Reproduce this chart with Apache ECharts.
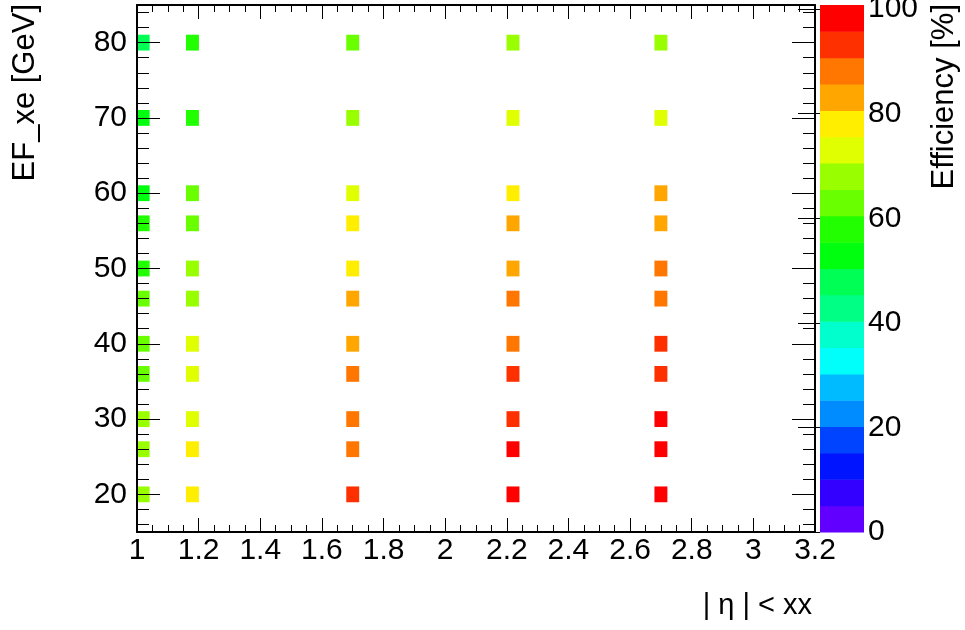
<!DOCTYPE html>
<html>
<head>
<meta charset="utf-8">
<script src="https://cdn.jsdelivr.net/npm/echarts@6/dist/echarts.min.js"></script>
<style>
  html, body { margin: 0; padding: 0; background: #fff; }
  #chart { width: 965px; height: 630px; }
</style>
</head>
<body>
<div id="chart"></div>
<script>
// |eta| cut values (x) and EF_xe thresholds in GeV (y)
const etaCuts = [1.02, 1.18, 1.7, 2.22, 2.7];
const xeThresholds = [20, 26, 30, 36, 40, 46, 50, 56, 60, 70, 80];

// Trigger efficiency [%] per |eta| cut, ordered like xeThresholds
const effEta102 = [68, 67, 67, 63, 62, 62, 57, 56, 54, 53, 48];
const effEta118 = [77, 77, 72, 72, 72, 67, 67, 62, 62, 57, 57];
const effEta170 = [92, 87, 87, 87, 82, 82, 77, 77, 72, 67, 62];
const effEta222 = [97, 97, 92, 92, 87, 87, 82, 82, 77, 72, 67];
const effEta270 = [97, 97, 97, 92, 92, 87, 87, 82, 82, 72, 67];
const effColumns = [effEta102, effEta118, effEta170, effEta222, effEta270];

// Axis tick labels
const yMajorTicks = [20, 30, 40, 50, 60, 70, 80];
const zTicks = [0, 20, 40, 60, 80, 100];

// Colour scale: 20 contour levels spanning 0 .. Z_MAX
const Z_MAX = 100.8;
const N_LEVELS = 20;
const palette = [
  '#6200ff', '#3300ff', '#0014ff', '#0044ff', '#008bff',
  '#00bbff', '#00fffb', '#00ffcc', '#00ff85', '#00ff55',
  '#00ff0e', '#22ff00', '#69ff00', '#99ff00', '#e0ff00',
  '#ffee00', '#ffa700', '#ff7700', '#ff3000', '#ff0000'
];

// Cell size in data units
const CELL_W = 0.042;
const CELL_H = 2.1;

const FONT = '"Liberation Sans", Arial, Helvetica, sans-serif';
const INK = '#000';
const LABEL_SIZE = 30;
const TITLE_SIZE = 31;

function levelOf(v) {
  const j = Math.floor(v / (Z_MAX / N_LEVELS));
  return Math.max(0, Math.min(N_LEVELS - 1, j));
}

// Cells: [eta, xe, efficiency]
const cells = [];
etaCuts.forEach((eta, i) => {
  xeThresholds.forEach((xe, k) => {
    cells.push([eta, xe, effColumns[i][k]]);
  });
});

// Colour bar bands: [lo, hi, level]
const bands = [];
for (let j = 0; j < N_LEVELS; j++) {
  bands.push([j * Z_MAX / N_LEVELS, (j + 1) * Z_MAX / N_LEVELS, j]);
}

// Minor tick positions every 2 GeV between the major ones
const yMinorTicks = [];
for (let v = 16; v <= 84; v += 2) {
  if (v % 10 !== 0) yMinorTicks.push(v);
}

const axisLine = { show: true, lineStyle: { color: INK, width: 2 } };
const tickStyle = { color: INK, width: 1 };
const labelStyle = { fontFamily: FONT, fontSize: LABEL_SIZE, color: INK };

function xAxisDef(position, withLabels) {
  return {
    type: 'value', gridIndex: 0, position: position,
    min: 1, max: 3.2, interval: 0.2, z: 10,
    axisLine: axisLine,
    axisTick: { show: true, inside: true, length: 14, lineStyle: tickStyle },
    minorTick: { show: true, splitNumber: 4, length: 7, lineStyle: tickStyle },
    axisLabel: Object.assign({ show: withLabels, margin: 4 }, labelStyle),
    splitLine: { show: false }, minorSplitLine: { show: false }
  };
}

function yAxisDef(position, ticks, len, withLine, withLabels) {
  return {
    type: 'value', gridIndex: 0, position: position,
    min: 15, max: 85, z: 10,
    axisLine: withLine ? axisLine : { show: false },
    axisTick: { show: true, inside: true, length: len, lineStyle: tickStyle, customValues: ticks },
    axisLabel: Object.assign({ show: withLabels, margin: 10, customValues: ticks }, labelStyle),
    splitLine: { show: false }
  };
}

const chart = echarts.init(document.getElementById('chart'), null, { renderer: 'canvas' });

chart.setOption({
  animation: false,
  backgroundColor: '#fff',
  grid: [
    { left: 137, top: 5, width: 678, height: 527, outerBoundsMode: 'none' },
    { left: 820, top: 5, width: 44, height: 527, outerBoundsMode: 'none' }
  ],
  xAxis: [
    xAxisDef('bottom', true),
    xAxisDef('top', false),
    { type: 'value', gridIndex: 1, min: 0, max: 1, show: false }
  ],
  yAxis: [
    yAxisDef('left', yMajorTicks, 23, true, true),
    yAxisDef('left', yMinorTicks, 12, false, false),
    yAxisDef('right', yMajorTicks, 23, true, false),
    yAxisDef('right', yMinorTicks, 12, false, false),
    {
      type: 'value', gridIndex: 1, position: 'right',
      min: 0, max: Z_MAX, z: 10,
      axisLine: { show: false },
      axisTick: { show: true, inside: true, length: 22, lineStyle: tickStyle, customValues: zTicks },
      axisLabel: Object.assign({ margin: 4, customValues: zTicks }, labelStyle),
      splitLine: { show: false }
    }
  ],
  series: [
    {
      type: 'custom',
      xAxisIndex: 0, yAxisIndex: 0,
      clip: true,
      data: cells,
      renderItem: function (params, api) {
        const c = api.coord([api.value(0), api.value(1)]);
        const s = api.size([CELL_W, CELL_H]);
        return {
          type: 'rect',
          shape: { x: c[0] - s[0] / 2, y: c[1] - s[1] / 2, width: s[0], height: s[1] },
          style: { fill: palette[levelOf(api.value(2))] }
        };
      }
    },
    {
      type: 'custom',
      xAxisIndex: 2, yAxisIndex: 4,
      data: bands,
      renderItem: function (params, api) {
        const p1 = api.coord([0, api.value(1)]);
        const p2 = api.coord([1, api.value(0)]);
        return {
          type: 'rect',
          shape: { x: p1[0], y: p1[1], width: p2[0] - p1[0], height: p2[1] - p1[1] + 0.5 },
          style: { fill: palette[api.value(2)] }
        };
      }
    }
  ],
  graphic: [
    {
      type: 'text', x: 25, y: 4, rotation: Math.PI / 2,
      style: { text: 'EF_xe [GeV]', font: TITLE_SIZE + 'px ' + FONT, fill: INK, align: 'right', verticalAlign: 'middle' }
    },
    {
      type: 'text', x: 944, y: 4, rotation: Math.PI / 2,
      style: { text: 'Efficiency [%]', font: TITLE_SIZE + 'px ' + FONT, fill: INK, align: 'right', verticalAlign: 'middle' }
    },
    {
      type: 'text', x: 812, y: 606,
      style: { text: '| η | < xx', font: '29px ' + FONT, fill: INK, align: 'right', verticalAlign: 'middle' }
    }
  ]
});
</script>
</body>
</html>
